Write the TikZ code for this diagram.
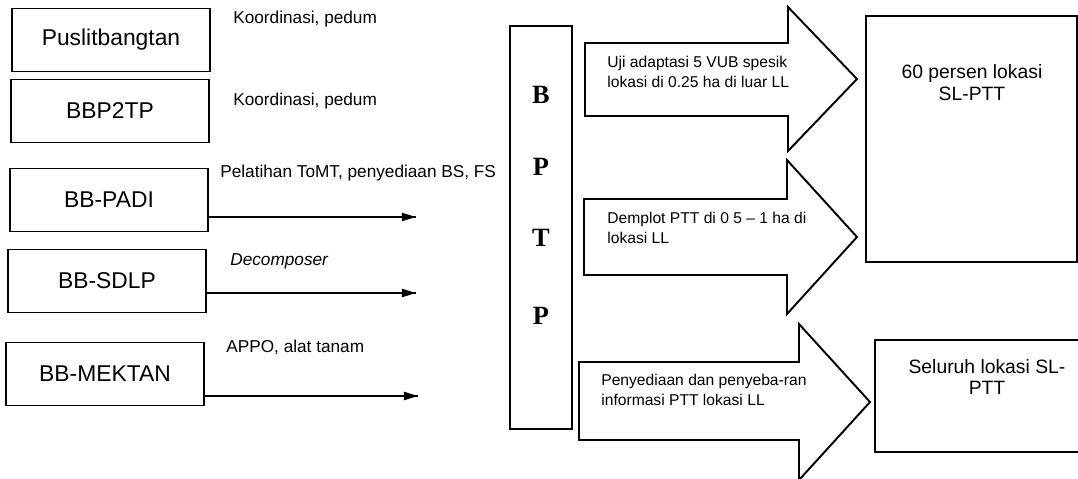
\documentclass[tikz,border=0pt]{standalone}
\usepackage{fontspec}
\setmainfont{Liberation Sans}
\newfontfamily\bptpfont{Liberation Serif}
\tikzset{tip/.style = {decoration={markings, mark=at position 1 with {\arrow{Triangle[length=8pt, width=4.6pt]}}}, postaction={decorate}}}
\tikzset{unit/.style = {draw, line width = 1.1pt, minimum width = 3.96cm, minimum height = 1.26cm, font = \fontsize{13}{15}\selectfont}}
\tikzset{lbl/.style = {anchor = west, inner sep = 0, font = \fontsize{9.8}{12}\selectfont}}
\tikzset{letter/.style = {inner sep = 0, font = \bptpfont\bfseries\fontsize{15}{18}\selectfont}}
\tikzset{flow/.style = {draw, line width = 1.1pt, fill = white, line join = miter}}
\tikzset{flowtxt/.style = {anchor = west, align = left, inner sep = 0, font = \fontsize{8.9}{11.5}\selectfont}}
\tikzset{goal/.style = {draw, line width = 1.1pt}}
\tikzset{goaltxt/.style = {align = center, inner sep = 0, font = \fontsize{11}{12.5}\selectfont}}
\usetikzlibrary{arrows.meta,
                 decorations.markings}

\begin{document}
\begin{tikzpicture}[x = 0.02cm, y = -0.02cm]
    \useasboundingbox (0,0) rectangle (1078,478);
    \clip (0,0) rectangle (1078,478);
    % left side
    \node [unit] (puslit) at (111,40) {Puslitbangtan};
    \node [unit] (bbp2tp) at (110,111) {BBP2TP};
    \node [unit] (padi) at (109,200) {BB-PADI};
    \node [unit] (sdlp) at (107,281) {BB-SDLP};
    \node [unit] (mektan) at (105,374) {BB-MEKTAN};
    \node [lbl] (koord1) at (233,19) {Koordinasi, pedum};
    \node [lbl] (koord2) at (233,101) {Koordinasi, pedum};
    \node [lbl] (latih) at (220,173) {Pelatihan ToMT, penyediaan BS, FS};
    \node [lbl] (decomp) at (230,261) {\itshape Decomposer};
    \node [lbl] (appo) at (226,347) {APPO, alat tanam};
    \coordinate (padiend) at (416,217);
    \coordinate (sdlpend) at (416,293);
    \coordinate (mektanend) at (418,396);
    \draw [line width = 1.1pt, tip] (padiend -| padi.east) -- (padiend);
    \draw [line width = 1.1pt, tip] (sdlpend -| sdlp.east) -- (sdlpend);
    \draw [line width = 1.1pt, tip] (mektanend -| mektan.east) -- (mektanend);
    % BPTP
    \node [draw, line width = 1.1pt, minimum width = 1.24cm, minimum height = 8.06cm] (bptp) at (541,227.5) {};
    \node [letter] (lb) at (541,95) {B};
    \node [letter] (lp1) at (541,167) {P};
    \node [letter] (lt) at (541,238) {T};
    \node [letter] (lp2) at (541,316) {P};
    % big arrows
    \draw [flow] (585,43) -- (788,43) -- (788,7) -- (857,79) -- (788,151) -- (788,116) -- (585,116) -- cycle;
    \draw [flow] (584,199) -- (787,199) -- (787,160) -- (857,237) -- (787,314) -- (787,275) -- (584,275) -- cycle;
    \draw [flow] (579,362) -- (799,362) -- (799,324) -- (870,402) -- (799,480) -- (799,440) -- (579,440) -- cycle;
    \node [flowtxt] (uji) at (607,72) {Uji adaptasi 5 VUB spesik\\lokasi di 0.25 ha di luar LL};
    \node [flowtxt] (demplot) at (607,228) {Demplot PTT di 0 5 -- 1 ha di\\lokasi LL};
    \node [flowtxt] (sebar) at (601,390) {Penyediaan dan penyeba-ran\\informasi PTT lokasi LL};
    % right side
    \node [goal, minimum width = 4.22cm, minimum height = 4.92cm] (persen) at (971.5,139) {};
    \node [goal, minimum width = 4.3cm, minimum height = 2.24cm] (seluruh) at (982,396) {};
    \node [goaltxt] (persentxt) at (972,83) {60 persen lokasi\\SL-PTT};
    \node [goaltxt] (seluruhtxt) at (987,377) {Seluruh lokasi SL-\\PTT};
\end{tikzpicture}
\end{document}
